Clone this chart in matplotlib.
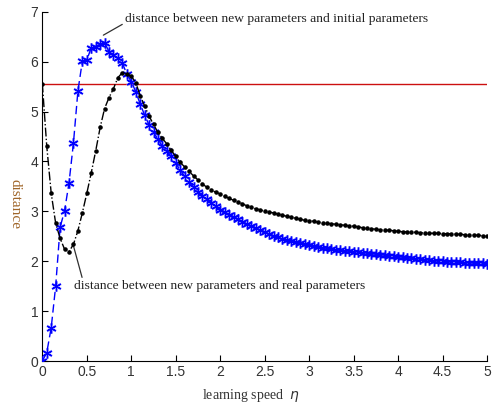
import numpy as np
import matplotlib
matplotlib.use("Agg")
import matplotlib.pyplot as plt

eta = np.round(np.arange(0, 5.0001, 0.05), 2)

dist_real = [5.56, 4.30, 3.36, 2.76, 2.46, 2.24, 2.19, 2.34, 2.61, 2.97,
             3.36, 3.77, 4.21, 4.68, 5.06, 5.28, 5.46, 5.68, 5.78, 5.75,
             5.71, 5.58, 5.32, 5.11, 4.91, 4.74, 4.58, 4.46, 4.35, 4.22,
             4.10, 3.98, 3.89, 3.80, 3.71, 3.63, 3.55, 3.48, 3.43, 3.38,
             3.35, 3.30, 3.26, 3.22, 3.19, 3.15, 3.11, 3.08, 3.05, 3.03,
             3.00, 2.98, 2.97, 2.94, 2.92, 2.90, 2.88, 2.86, 2.84, 2.82,
             2.81, 2.80, 2.78, 2.77, 2.76, 2.75, 2.74, 2.73, 2.72, 2.71,
             2.70, 2.69, 2.67, 2.66, 2.65, 2.64, 2.63, 2.62, 2.62, 2.61,
             2.60, 2.59, 2.59, 2.58, 2.58, 2.57, 2.57, 2.56, 2.56, 2.56,
             2.55, 2.55, 2.55, 2.54, 2.54, 2.53, 2.53, 2.52, 2.52, 2.51,
             2.50]

dist_initial = [0.00, 0.17, 0.67, 1.50, 2.68, 3.01, 3.57, 4.37, 5.41, 6.01,
                6.03, 6.28, 6.30, 6.35, 6.38, 6.20, 6.13, 6.07, 5.97, 5.75,
                5.60, 5.40, 5.15, 4.93, 4.73, 4.58, 4.45, 4.30, 4.20, 4.10,
                3.96, 3.83, 3.70, 3.58, 3.48, 3.39, 3.31, 3.25, 3.17, 3.10,
                3.03, 2.98, 2.93, 2.89, 2.84, 2.79, 2.75, 2.71, 2.66, 2.62,
                2.58, 2.54, 2.50, 2.48, 2.45, 2.42, 2.40, 2.38, 2.36, 2.34,
                2.33, 2.31, 2.29, 2.27, 2.26, 2.25, 2.23, 2.22, 2.21, 2.20,
                2.19, 2.18, 2.17, 2.16, 2.15, 2.14, 2.13, 2.12, 2.11, 2.10,
                2.09, 2.08, 2.07, 2.06, 2.05, 2.04, 2.03, 2.02, 2.01, 2.01,
                2.00, 1.99, 1.99, 1.98, 1.98, 1.97, 1.97, 1.96, 1.96, 1.96,
                1.95]

ref_level = 5.56
x_ticks = [0, 0.5, 1, 1.5, 2, 2.5, 3, 3.5, 4, 4.5, 5]
x_tick_labels = ["0", "0.5", "1", "1.5", "2", "2.5", "3", "3.5", "4", "4.5", "5"]
y_ticks = [0, 1, 2, 3, 4, 5, 6, 7]

fig = plt.figure(figsize=(4.95, 4.05), dpi=100)
ax = fig.add_axes([0.0855, 0.1086, 0.8985, 0.8625])

ax.plot([0, 5], [ref_level, ref_level], color="#cc1010", lw=1.0, zorder=1)

ast = (6, 2, 0)
ax.plot(eta, dist_initial, color="#9090ff", ls="none", marker=ast,
        markersize=7.5, markeredgewidth=1.8, alpha=0.6, zorder=2)
ax.plot(eta, dist_initial, color="#0000ff", ls="--", lw=1.0, marker=ast,
        markersize=7, markeredgewidth=0.9, dashes=(6, 3), zorder=3)
ax.plot(eta, dist_real, color="black", ls="-.", lw=1.0, marker=".",
        markersize=4.5, zorder=4)

serif = ["Liberation Serif", "DejaVu Serif"]
ax.annotate("distance between new parameters and initial parameters",
            xy=(0.686, 6.53), xytext=(0.93, 6.85), fontsize=9.7,
            family=serif, color="#202020", va="center", ha="left",
            arrowprops=dict(arrowstyle="-", color="#303030", lw=0.9,
                            shrinkA=0, shrinkB=0, relpos=(0, 0.2)))
ax.annotate("distance between new parameters and real parameters",
            xy=(0.342, 2.36), xytext=(0.357, 1.50), fontsize=9.7,
            family=serif, color="#202020", va="center", ha="left",
            arrowprops=dict(arrowstyle="-", color="#303030", lw=0.9,
                            shrinkA=0, shrinkB=0, relpos=(0.03, 1.0)))

ax.set_xlim(0, 5)
ax.set_ylim(0, 7)
ax.set_xticks(x_ticks)
ax.set_xticklabels(x_tick_labels)
ax.set_yticks(y_ticks)
ax.spines["top"].set_visible(False)
ax.spines["right"].set_visible(False)
ax.tick_params(direction="in", length=4, width=0.8, labelsize=10,
               labelcolor="#333333", pad=3)
for lab in ax.get_xticklabels() + ax.get_yticklabels():
    lab.set_family(["Liberation Sans", "DejaVu Sans"])

ax.set_xlabel(r"learning speed  $\eta$", fontsize=10, family=serif,
              color="#333333")
ax.xaxis.set_label_coords(0.47, -0.075)
ax.set_ylabel("distance", fontsize=11, family=serif, color="#a0662a",
              rotation=270, va="center")
ax.yaxis.set_label_coords(-0.062, 0.45)

fig.savefig("out.png", dpi=100)
